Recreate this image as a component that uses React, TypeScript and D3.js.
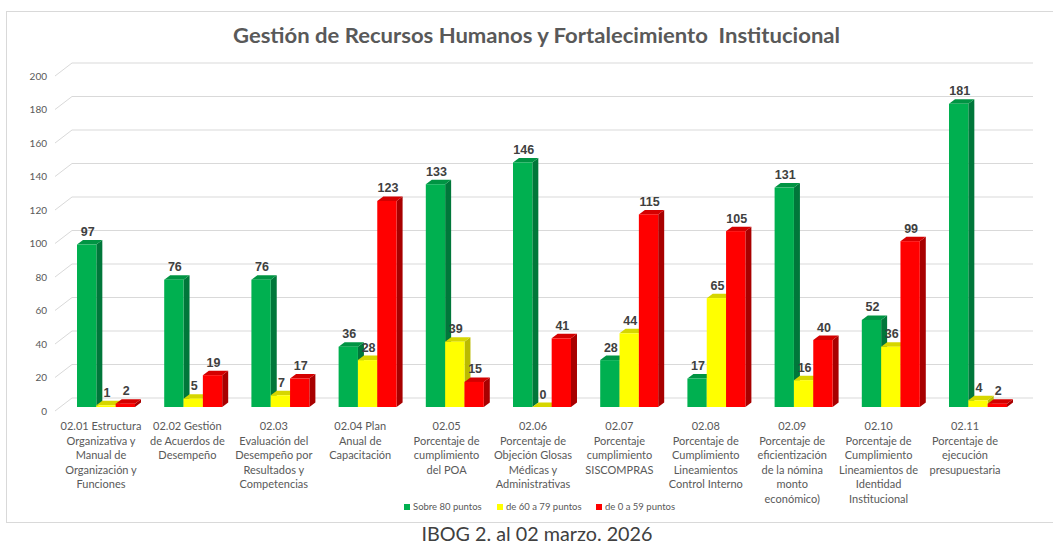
import React from "react";
import * as d3 from "d3";

const categories: string[] = [
  "02.01 Estructura\nOrganizativa y\nManual de\nOrganización y\nFunciones",
  "02.02 Gestión\nde Acuerdos de\nDesempeño",
  "02.03\nEvaluación del\nDesempeño por\nResultados y\nCompetencias",
  "02.04 Plan\nAnual de\nCapacitación",
  "02.05\nPorcentaje de\ncumplimiento\ndel POA",
  "02.06\nPorcentaje de\nObjeción Glosas\nMédicas y\nAdministrativas",
  "02.07\nPorcentaje\ncumplimiento\nSISCOMPRAS",
  "02.08\nPorcentaje de\nCumplimiento\nLineamientos\nControl Interno",
  "02.09\nPorcentaje de\neficientización\nde la nómina\nmonto\neconómico)",
  "02.10\nPorcentaje de\nCumplimiento\nLineamientos de\nIdentidad\nInstitucional",
  "02.11\nPorcentaje de\nejecución\npresupuestaria",
];

const seriesNames: string[] = ["Sobre 80 puntos", "de 60 a 79 puntos", "de 0 a 59 puntos"];
const sobre80: number[] = [97, 76, 76, 36, 133, 146, 28, 17, 131, 52, 181];
const de60a79: number[] = [1, 5, 7, 28, 39, 0, 44, 65, 16, 36, 4];
const de0a59: number[] = [2, 19, 17, 123, 15, 41, 115, 105, 40, 99, 2];
const yTicks: number[] = [0, 20, 40, 60, 80, 100, 120, 140, 160, 180, 200];

const title = "Gestión de Recursos Humanos y Fortalecimiento  Institucional";
const caption = "IBOG 2. al 02 marzo. 2026";

const colors = [
  { front: "#00B050", side: "#00773A", top: "#009443" },
  { front: "#FFFF00", side: "#BABA00", top: "#D6D600" },
  { front: "#FF0000", side: "#A80000", top: "#D40000" },
];

export default function App() {
  const W = 1053, H = 546;
  const series = [sobre80, de60a79, de0a59];
  const idx = categories.map((_, i) => String(i));

  const x = d3.scaleBand<string>().domain(idx).range([62.4, 1021.6]).paddingInner(0.335).paddingOuter(0.1675);
  const xs = d3.scaleBand<string>().domain(["0", "1", "2"]).range([0, x.bandwidth()]);
  const xLabel = d3.scalePoint<string>().domain(idx).range([101, 965]);
  const y = d3.scaleLinear().domain([0, 200]).range([407, 72]);
  const yBack = d3.scaleLinear().domain([0, 200]).range([398, 63]);

  const dx = 6, dy = -4.5;
  const font = "Lato, 'Open Sans', sans-serif";

  const bars: React.ReactNode[] = [];
  const labels: React.ReactNode[] = [];
  idx.forEach((c, i) => {
    series.forEach((s, si) => {
      const v = s[i];
      const x0 = (x(c) as number) + (xs(String(si)) as number);
      const w = xs.bandwidth();
      const yt = y(v);
      const yb = y(0);
      const col = colors[si];
      bars.push(
        <g key={`b${i}-${si}`}>
          <polygon points={`${x0 + w},${yb} ${x0 + w + dx},${yb + dy} ${x0 + w + dx},${yt + dy} ${x0 + w},${yt}`} fill={col.side} />
          <polygon points={`${x0},${yt} ${x0 + dx},${yt + dy} ${x0 + w + dx},${yt + dy} ${x0 + w},${yt}`} fill={col.top} />
          {v > 0 && <rect x={x0} y={yt} width={w} height={yb - yt} fill={col.front} />}
        </g>
      );
      labels.push(
        <text key={`l${i}-${si}`} x={x0 + w / 2 + 1} y={yt - 8.5} textAnchor="middle" fontFamily="'Liberation Sans', Arial, sans-serif" fontWeight="bold" fontSize={12.5} fill="#404040">
          {v}
        </text>
      );
    });
  });

  const legendX = [404, 497, 596];

  return (
    <svg width={W} height={H} style={{ position: "absolute", left: 0, top: 0, background: "#fff" }}>
      <rect x={6.5} y={11.5} width={1060} height={511} fill="#fff" stroke="#d9d9d9" strokeWidth={1} />
      <text x={536.5} y={43} textAnchor="middle" fontFamily="Lato, sans-serif" fontWeight="bold" fontSize={21} fill="#595959" textLength={607} lengthAdjust="spacingAndGlyphs" style={{ whiteSpace: "pre" }}>
        {title}
      </text>
      {yTicks.map((t) => {
        const yb = yBack(t);
        return (
          <g key={`g${t}`}>
            <polyline points={`55,${yb + 13} 72,${yb} 1033,${yb}`} fill="none" stroke="#d9d9d9" strokeWidth={1} />
            <text x={47} y={yb + 13} dy="0.35em" textAnchor="end" fontFamily={font} fontSize={10} fill="#595959">
              {t}
            </text>
          </g>
        );
      })}
      {bars}
      {labels}
      {idx.map((c, i) => (
        <text key={`c${i}`} x={(xLabel(c) as number)} y={430} textAnchor="middle" fontFamily={font} fontSize={11} fill="#595959">
          {categories[i].split("\n").map((line, li) => (
            <tspan key={li} x={(xLabel(c) as number)} dy={li === 0 ? 0 : 14.5}>
              {line}
            </tspan>
          ))}
        </text>
      ))}
      {seriesNames.map((n, si) => (
        <g key={`lg${si}`}>
          <rect x={legendX[si]} y={504} width={6} height={6} fill={colors[si].front} />
          <text x={legendX[si] + 9} y={507} dy="0.35em" fontFamily={font} fontSize={9.5} fill="#595959">
            {n}
          </text>
        </g>
      ))}
      <text x={537} y={541} textAnchor="middle" fontFamily={font} fontSize={18.5} fill="#404040" textLength={231} lengthAdjust="spacingAndGlyphs">
        {caption}
      </text>
    </svg>
  );
}
